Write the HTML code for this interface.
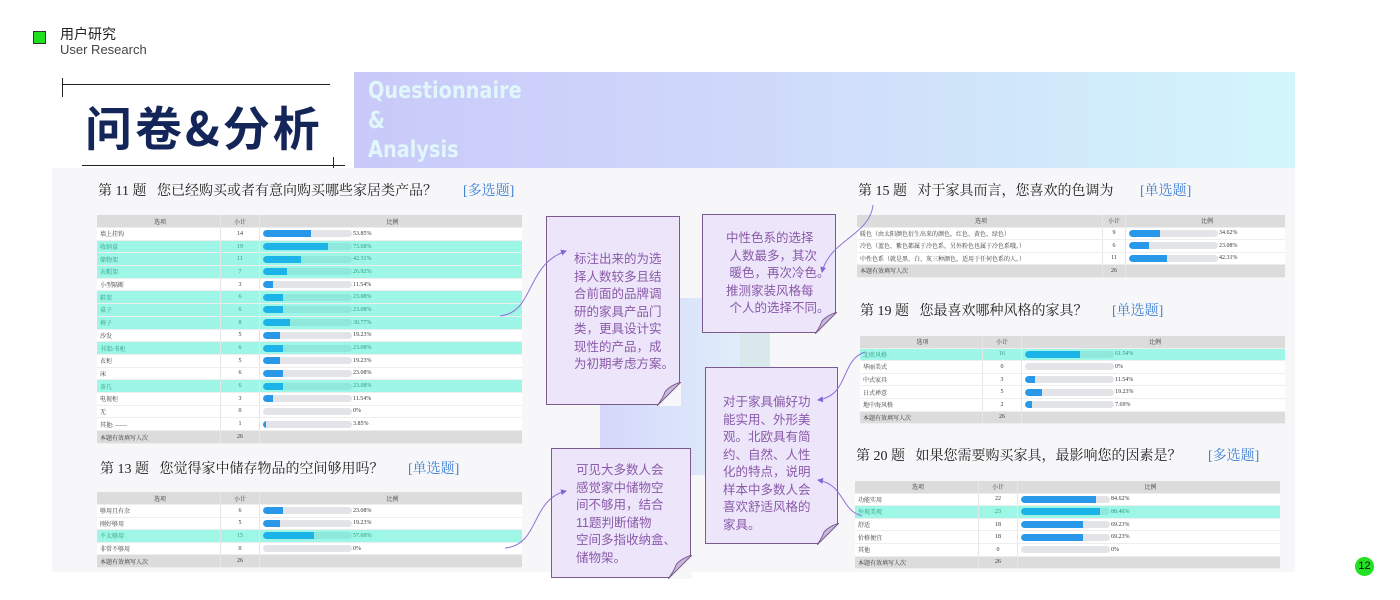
<!DOCTYPE html>
<html><head><meta charset="utf-8">
<style>
*{margin:0;padding:0;box-sizing:border-box}
body{width:1400px;height:600px;position:relative;background:#fff;overflow:hidden;font-family:"Liberation Sans","Noto Sans CJK SC",sans-serif}
.a{position:absolute}
.t{position:absolute;font-family:"Liberation Serif","Noto Serif CJK SC",serif;font-size:14px;color:#222;white-space:nowrap}
.t b{font-weight:normal;color:#3b7fd4;position:absolute;top:0}
.tbl{position:absolute;background:#fff;font-family:"Liberation Serif","Noto Serif CJK SC",serif;font-size:6px;color:#333}
.r{display:grid;border-bottom:1px solid #eee;align-items:center;position:relative}
.r>div{white-space:nowrap;overflow:hidden;padding-left:3px;height:100%;display:flex;align-items:center}
.r>div:nth-child(2){justify-content:center;padding:0;border-left:1px solid #e6e6e6;border-right:1px solid #e6e6e6}
.h{background:#dcdcdc}
.h>div:first-child,.h>div:nth-child(3){justify-content:center}
.f{background:#dcdcdc}
.hl{background:#9ef6e6;color:#2a9a80}
.trk{width:89px;height:7px;border-radius:4px;background:#e2e4e8;position:relative;flex:none;overflow:hidden}
.hl .trk{background:#8fe8dc}
.bar{position:absolute;left:0;top:0;bottom:0;background:#2a98e8;border-radius:4px 0 0 4px}
.hl .bar{background:#1cb4e8}
.pc{margin-left:1px}
.note{position:absolute;background:#ede6fb;border:1.5px solid #7b5b8f;color:#8a5aa8;font-size:12.5px;line-height:17.5px;padding:0}
.note p{position:absolute;white-space:nowrap}
.fold{position:absolute;right:-2px;bottom:-2px}
</style></head><body>

<!-- header -->
<div class="a" style="left:33px;top:31px;width:13px;height:13px;background:#1fe01f;border:1px solid #333"></div>
<div class="a" style="left:60px;top:24px;font-size:14px;color:#222;font-family:'Liberation Sans','Noto Sans CJK SC',sans-serif">用户研究</div>
<div class="a" style="left:60px;top:42px;font-size:13px;color:#444">User Research</div>

<div class="a" style="left:62px;top:84px;width:268px;height:1px;background:#222"></div>
<div class="a" style="left:62px;top:78px;width:1px;height:19px;background:#222"></div>
<div class="a" style="left:82px;top:165px;width:263px;height:1px;background:#222"></div>
<div class="a" style="left:333px;top:157px;width:1px;height:16px;background:#222"></div>
<div class="a" style="left:85px;top:96px;font-size:47px;font-weight:bold;color:#142659;font-family:'Noto Sans CJK SC',sans-serif;letter-spacing:3px;line-height:60px">问卷&amp;分析</div>

<div class="a" style="left:354px;top:72px;width:941px;height:96px;background:linear-gradient(90deg,#c9c9f9 0%,#cfd8fa 40%,#d2f6fb 100%)"></div>
<div class="a" style="left:368px;top:77px;font-size:23px;font-weight:bold;color:#e0f7fc;line-height:29.5px;font-family:'DejaVu Sans','Liberation Sans',sans-serif;transform:scaleX(0.84);transform-origin:left top">Questionnaire<br>&amp;<br>Analysis</div>

<!-- content panel -->
<div class="a" style="left:52px;top:168px;width:1243px;height:404px;background:#f7f7f9"></div>
<div class="a" style="left:600px;top:298px;width:170px;height:177px;background:linear-gradient(90deg,#ccd0fa,#dcf0fb);opacity:.8"></div>
<div class="a" style="left:740px;top:298px;width:30px;height:130px;background:#d5e6e4;opacity:.7"></div>

<!-- titles -->
<div class="t" style="left:98px;top:180px">第 11 题&nbsp;&nbsp; 您已经购买或者有意向购买哪些家居类产品？<b style="left:365px">[多选题]</b></div>
<div class="t" style="left:100px;top:458px">第 13 题&nbsp;&nbsp; 您觉得家中储存物品的空间够用吗？<b style="left:308px">[单选题]</b></div>
<div class="t" style="left:858px;top:180px">第 15 题&nbsp;&nbsp; 对于家具而言，您喜欢的色调为<b style="left:282px">[单选题]</b></div>
<div class="t" style="left:860px;top:300px">第 19 题&nbsp;&nbsp; 您最喜欢哪种风格的家具？<b style="left:252px">[单选题]</b></div>
<div class="t" style="left:856px;top:445px">第 20 题&nbsp;&nbsp; 如果您需要购买家具，最影响您的因素是？<b style="left:352px">[多选题]</b></div>

<!-- Q11 -->
<div class="tbl" style="left:97px;top:215px;width:425px">
<div class="r h" style="grid-template-columns:123px 40px 1fr;height:13px"><div>选项</div><div>小计</div><div>比例</div></div>
<div class="r" style="grid-template-columns:123px 40px 1fr;height:12.7px"><div>墙上挂钩</div><div>14</div><div><span class="trk"><span class="bar" style="width:48px"></span></span><span class="pc">53.85%</span></div></div>
<div class="r hl" style="grid-template-columns:123px 40px 1fr;height:12.7px"><div>收纳盒</div><div>19</div><div><span class="trk"><span class="bar" style="width:65px"></span></span><span class="pc">73.08%</span></div></div>
<div class="r hl" style="grid-template-columns:123px 40px 1fr;height:12.7px"><div>储物架</div><div>11</div><div><span class="trk"><span class="bar" style="width:38px"></span></span><span class="pc">42.31%</span></div></div>
<div class="r hl" style="grid-template-columns:123px 40px 1fr;height:12.7px"><div>衣帽架</div><div>7</div><div><span class="trk"><span class="bar" style="width:24px"></span></span><span class="pc">26.92%</span></div></div>
<div class="r" style="grid-template-columns:123px 40px 1fr;height:12.7px"><div>小型隔断</div><div>3</div><div><span class="trk"><span class="bar" style="width:10px"></span></span><span class="pc">11.54%</span></div></div>
<div class="r hl" style="grid-template-columns:123px 40px 1fr;height:12.7px"><div>鞋架</div><div>6</div><div><span class="trk"><span class="bar" style="width:20px"></span></span><span class="pc">23.08%</span></div></div>
<div class="r hl" style="grid-template-columns:123px 40px 1fr;height:12.7px"><div>桌子</div><div>6</div><div><span class="trk"><span class="bar" style="width:20px"></span></span><span class="pc">23.08%</span></div></div>
<div class="r hl" style="grid-template-columns:123px 40px 1fr;height:12.7px"><div>椅子</div><div>8</div><div><span class="trk"><span class="bar" style="width:27px"></span></span><span class="pc">30.77%</span></div></div>
<div class="r" style="grid-template-columns:123px 40px 1fr;height:12.7px"><div>沙发</div><div>5</div><div><span class="trk"><span class="bar" style="width:17px"></span></span><span class="pc">19.23%</span></div></div>
<div class="r hl" style="grid-template-columns:123px 40px 1fr;height:12.7px"><div>书架/书柜</div><div>6</div><div><span class="trk"><span class="bar" style="width:20px"></span></span><span class="pc">23.08%</span></div></div>
<div class="r" style="grid-template-columns:123px 40px 1fr;height:12.7px"><div>衣柜</div><div>5</div><div><span class="trk"><span class="bar" style="width:17px"></span></span><span class="pc">19.23%</span></div></div>
<div class="r" style="grid-template-columns:123px 40px 1fr;height:12.7px"><div>床</div><div>6</div><div><span class="trk"><span class="bar" style="width:20px"></span></span><span class="pc">23.08%</span></div></div>
<div class="r hl" style="grid-template-columns:123px 40px 1fr;height:12.7px"><div>茶几</div><div>6</div><div><span class="trk"><span class="bar" style="width:20px"></span></span><span class="pc">23.08%</span></div></div>
<div class="r" style="grid-template-columns:123px 40px 1fr;height:12.7px"><div>电视柜</div><div>3</div><div><span class="trk"><span class="bar" style="width:10px"></span></span><span class="pc">11.54%</span></div></div>
<div class="r" style="grid-template-columns:123px 40px 1fr;height:12.7px"><div>无</div><div>0</div><div><span class="trk"></span><span class="pc">0%</span></div></div>
<div class="r" style="grid-template-columns:123px 40px 1fr;height:12.7px"><div>其他: ——</div><div>1</div><div><span class="trk"><span class="bar" style="width:3px"></span></span><span class="pc">3.85%</span></div></div>
<div class="r f" style="grid-template-columns:123px 40px 1fr;height:13px"><div>本题有效填写人次</div><div>26</div><div></div></div>
</div>

<!-- Q13 -->
<div class="tbl" style="left:97px;top:492px;width:425px">
<div class="r h" style="grid-template-columns:123px 40px 1fr;height:13px"><div>选项</div><div>小计</div><div>比例</div></div>
<div class="r" style="grid-template-columns:123px 40px 1fr;height:12.6px"><div>够用且有余</div><div>6</div><div><span class="trk"><span class="bar" style="width:20px"></span></span><span class="pc">23.08%</span></div></div>
<div class="r" style="grid-template-columns:123px 40px 1fr;height:12.6px"><div>刚好够用</div><div>5</div><div><span class="trk"><span class="bar" style="width:17px"></span></span><span class="pc">19.23%</span></div></div>
<div class="r hl" style="grid-template-columns:123px 40px 1fr;height:12.6px"><div>不太够用</div><div>15</div><div><span class="trk"><span class="bar" style="width:51px"></span></span><span class="pc">57.69%</span></div></div>
<div class="r" style="grid-template-columns:123px 40px 1fr;height:12.6px"><div>非常不够用</div><div>0</div><div><span class="trk"></span><span class="pc">0%</span></div></div>
<div class="r f" style="grid-template-columns:123px 40px 1fr;height:13px"><div>本题有效填写人次</div><div>26</div><div></div></div>
</div>

<!-- Q15 -->
<div class="tbl" style="left:857px;top:215px;width:428px">
<div class="r h" style="grid-template-columns:245px 24px 1fr;height:12.5px"><div style="justify-content:center">选项</div><div>小计</div><div>比例</div></div>
<div class="r" style="grid-template-columns:245px 24px 1fr;height:12.5px"><div>暖色（由太阳颜色衍生出来的颜色，红色、黄色、绿色）</div><div>9</div><div><span class="trk"><span class="bar" style="width:31px"></span></span><span class="pc">34.62%</span></div></div>
<div class="r" style="grid-template-columns:245px 24px 1fr;height:12.5px"><div>冷色（蓝色、紫色都属于冷色系，另外粉色也属于冷色系哦。）</div><div>6</div><div><span class="trk"><span class="bar" style="width:20px"></span></span><span class="pc">23.08%</span></div></div>
<div class="r" style="grid-template-columns:245px 24px 1fr;height:12.5px"><div>中性色系（就是黑、白、灰三种颜色，适用于任何色系的人。）</div><div>11</div><div><span class="trk"><span class="bar" style="width:38px"></span></span><span class="pc">42.31%</span></div></div>
<div class="r f" style="grid-template-columns:245px 24px 1fr;height:12.5px"><div>本题有效填写人次</div><div>26</div><div></div></div>
</div>

<!-- Q19 -->
<div class="tbl" style="left:860px;top:336px;width:425px">
<div class="r h" style="grid-template-columns:122px 40px 1fr;height:12.6px"><div>选项</div><div>小计</div><div>比例</div></div>
<div class="r hl" style="grid-template-columns:122px 40px 1fr;height:12.6px"><div>北欧风格</div><div>16</div><div><span class="trk"><span class="bar" style="width:55px"></span></span><span class="pc">61.54%</span></div></div>
<div class="r" style="grid-template-columns:122px 40px 1fr;height:12.6px"><div>华丽美式</div><div>0</div><div><span class="trk"></span><span class="pc">0%</span></div></div>
<div class="r" style="grid-template-columns:122px 40px 1fr;height:12.6px"><div>中式家具</div><div>3</div><div><span class="trk"><span class="bar" style="width:10px"></span></span><span class="pc">11.54%</span></div></div>
<div class="r" style="grid-template-columns:122px 40px 1fr;height:12.6px"><div>日式禅意</div><div>5</div><div><span class="trk"><span class="bar" style="width:17px"></span></span><span class="pc">19.23%</span></div></div>
<div class="r" style="grid-template-columns:122px 40px 1fr;height:12.6px"><div>地中海风格</div><div>2</div><div><span class="trk"><span class="bar" style="width:7px"></span></span><span class="pc">7.69%</span></div></div>
<div class="r f" style="grid-template-columns:122px 40px 1fr;height:12.6px"><div>本题有效填写人次</div><div>26</div><div></div></div>
</div>

<!-- Q20 -->
<div class="tbl" style="left:855px;top:481px;width:425px">
<div class="r h" style="grid-template-columns:123px 40px 1fr;height:12.6px"><div>选项</div><div>小计</div><div>比例</div></div>
<div class="r" style="grid-template-columns:123px 40px 1fr;height:12.6px"><div>功能实用</div><div>22</div><div><span class="trk"><span class="bar" style="width:75px"></span></span><span class="pc">84.62%</span></div></div>
<div class="r hl" style="grid-template-columns:123px 40px 1fr;height:12.6px"><div>外观美观</div><div>23</div><div><span class="trk"><span class="bar" style="width:79px"></span></span><span class="pc">88.46%</span></div></div>
<div class="r" style="grid-template-columns:123px 40px 1fr;height:12.6px"><div>舒适</div><div>18</div><div><span class="trk"><span class="bar" style="width:62px"></span></span><span class="pc">69.23%</span></div></div>
<div class="r" style="grid-template-columns:123px 40px 1fr;height:12.6px"><div>价格便宜</div><div>18</div><div><span class="trk"><span class="bar" style="width:62px"></span></span><span class="pc">69.23%</span></div></div>
<div class="r" style="grid-template-columns:123px 40px 1fr;height:12.6px"><div>其他</div><div>0</div><div><span class="trk"></span><span class="pc">0%</span></div></div>
<div class="r f" style="grid-template-columns:123px 40px 1fr;height:12.6px"><div>本题有效填写人次</div><div>26</div><div></div></div>
</div>

<!-- notes -->
<div class="note" style="left:546px;top:216px;width:134px;height:189px">
<p style="left:27px;top:34px">标注出来的为选<br>择人数较多且结<br>合前面的品牌调<br>研的家具产品门<br>类，更具设计实<br>现性的产品，成<br>为初期考虑方案。</p>
<svg class="fold" width="24" height="24" viewBox="0 0 24 24"><polygon points="24,0 24,24 0,24" fill="#f7f7f9"/><path d="M0,24 L24,0 Q12,4 8,10 Q6,16 0,24Z" fill="#c8b8dc" stroke="#7b5b8f" stroke-width="1"/></svg>
</div>
<div class="note" style="left:702px;top:214px;width:134px;height:119px">
<p style="left:23px;top:15px">中性色系的选择<br>&nbsp;人数最多，其次<br>&nbsp;暖色，再次冷色。<br>推测家装风格每<br>&nbsp;个人的选择不同。</p>
<svg class="fold" width="22" height="22" viewBox="0 0 22 22"><polygon points="22,0 22,22 0,22" fill="#f7f7f9"/><path d="M0,22 L22,0 Q11,4 7,9 Q5,15 0,22Z" fill="#c8b8dc" stroke="#7b5b8f" stroke-width="1"/></svg>
</div>
<div class="note" style="left:705px;top:367px;width:133px;height:177px">
<p style="left:17px;top:26px">对于家具偏好功<br>能实用、外形美<br>观。北欧具有简<br>约、自然、人性<br>化的特点，说明<br>样本中多数人会<br>喜欢舒适风格的<br>家具。</p>
<svg class="fold" width="22" height="22" viewBox="0 0 22 22"><polygon points="22,0 22,22 0,22" fill="#f7f7f9"/><path d="M0,22 L22,0 Q11,4 7,9 Q5,15 0,22Z" fill="#c8b8dc" stroke="#7b5b8f" stroke-width="1"/></svg>
</div>
<div class="note" style="left:551px;top:448px;width:140px;height:130px">
<p style="left:24px;top:13px">可见大多数人会<br>感觉家中储物空<br>间不够用，结合<br>11题判断储物<br>空间多指收纳盒、<br>储物架。</p>
<svg class="fold" width="24" height="24" viewBox="0 0 24 24"><polygon points="24,0 24,24 0,24" fill="#f7f7f9"/><path d="M0,24 L24,0 Q12,4 8,10 Q6,16 0,24Z" fill="#c8b8dc" stroke="#7b5b8f" stroke-width="1"/></svg>
</div>

<!-- connectors -->
<svg class="a" style="left:0;top:0" width="1400" height="600">
<defs><marker id="m" markerWidth="6" markerHeight="6" refX="5" refY="3" orient="auto"><path d="M0,0 L6,3 L0,6Z" fill="#8066d6"/></marker></defs>
<g fill="none" stroke="#8a72d8" stroke-width="1">
<path d="M500,316 C535,312 525,265 566,251" marker-end="url(#m)"/>
<path d="M505,548 C540,545 530,500 566,491" marker-end="url(#m)"/>
<path d="M873,205 C870,235 830,240 822,272" marker-end="url(#m)"/>
<path d="M865,352 C840,360 850,395 818,400" marker-end="url(#m)"/>
<path d="M862,516 C840,510 845,485 818,480" marker-end="url(#m)"/>
</g>
</svg>

<div class="a" style="left:1355px;top:557px;width:19px;height:19px;border-radius:50%;background:#22e022;font-size:11px;color:#111;text-align:center;line-height:19px">12</div>
</body></html>
